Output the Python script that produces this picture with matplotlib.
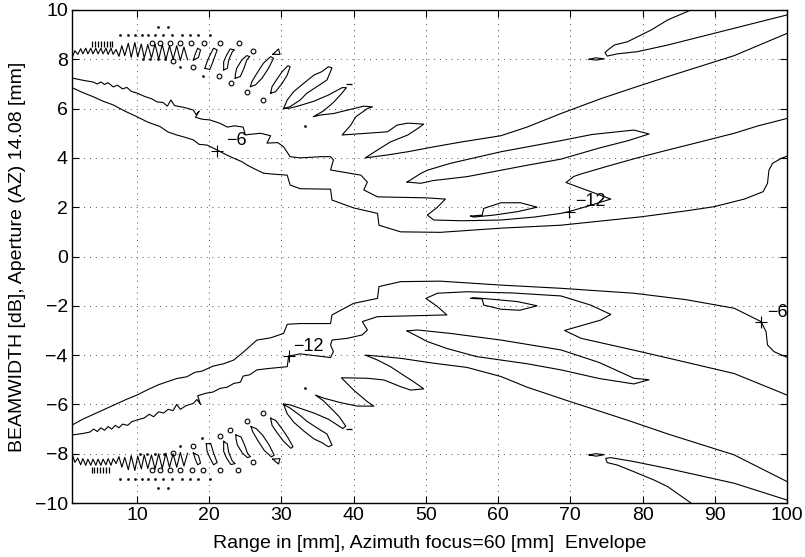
import matplotlib
matplotlib.use("Agg")
import matplotlib.pyplot as plt

plt.rcParams['font.family'] = ['Liberation Sans', 'DejaVu Sans']

# ---------------- axis description ----------------
x_ticks = [10, 20, 30, 40, 50, 60, 70, 80, 90, 100]
y_ticks = [-10, -8, -6, -4, -2, 0, 2, 4, 6, 8, 10]
x_label = "Range in [mm], Azimuth focus=60 [mm]  Envelope"
y_label = "BEAMWIDTH [dB], Aperture (AZ) 14.08 [mm]"

# ---------------- upper half contour lines ----------------
u1_x = [1, 2.5, 3.95, 5.3, 6.7, 8.3, 10, 11.5, 13.2, 14.3, 15.5, 16.5, 17.8, 18.6, 19.7, 21.1, 22.2, 23.3, 24.5, 25.3,
        26.1, 27.5, 28.5, 30.8, 31.2, 32.6, 36.8, 37.0, 40.0, 43.3, 43.5, 46.5, 52, 60.4, 68.7, 79.8, 86, 89.9, 94.1, 96.7,
        97.3, 97.5, 98.0, 99.2, 100]
u1_y = [6.85, 6.65, 6.48, 6.3, 6.15, 5.9, 5.67, 5.45, 5.27, 5.05, 4.93, 4.85, 4.73, 4.55, 4.52, 4.32, 4.15, 4.0, 3.85, 3.7,
        3.58, 3.38, 3.35, 3.3, 2.9, 2.75, 2.73, 2.29, 1.97, 1.75, 1.27, 1.0, 0.98, 1.15, 1.27, 1.61, 1.85, 2.02, 2.33, 2.63,
        2.97, 3.5, 3.78, 3.98, 4.07]

u2_x = [1, 2.5, 3.9, 4.5, 5.0, 5.5, 6.0, 6.7, 7.3, 8.0, 8.6, 9.2, 10.0, 11.0, 12.0, 12.8, 13.6, 14.2, 14.7, 15.2,
        16.5, 17.8, 18.2, 18.6, 18.1, 19.0, 20.1, 21.5, 22.5, 23.5, 24.7, 25.0, 25.5, 27.1, 28.5, 28.0, 29.5, 30.3, 31.2, 32.6,
        35.4, 36.8, 37.2, 36.8, 39.0, 41.0, 41.9, 41.4, 43.3, 46.5, 50.0, 52.7, 51.6, 50.2, 51.1, 55.0, 60.4, 65.0, 68.7, 69.8,
        72.5, 75.6, 69.4, 70.5, 71.5, 75.0, 79.0, 83.5, 88.0, 92.7, 96.0, 100]
u2_y = [7.24, 7.15, 7.08, 7.0, 7.08, 6.98, 7.05, 6.88, 6.95, 6.8, 6.86, 6.7, 6.63, 6.5, 6.4, 6.27, 6.25, 6.1, 6.35, 6.12,
        6.05, 5.94, 5.75, 5.9, 5.65, 5.57, 5.54, 5.4, 5.25, 5.3, 5.25, 4.93, 4.95, 5.0, 4.9, 4.6, 4.62, 4.45, 4.05, 4.0,
        4.05, 4.05, 3.92, 3.51, 3.4, 3.3, 3.02, 2.7, 2.42, 2.4, 2.38, 2.33, 2.0, 1.68, 1.48, 1.45, 1.48, 1.6, 1.75, 1.82,
        2.05, 2.33, 3.0, 3.25, 3.35, 3.65, 3.98, 4.32, 4.65, 5.0, 5.3, 5.6]

u3_x = [100, 92.7, 83.5, 78.8, 74.2, 68.7, 64.0, 60.4, 55.0, 51.1, 47.5, 44.7, 41.6, 43.3, 45.1, 47.5, 48.9, 49.7, 47.5, 46.0,
        44.7, 41.9, 38.4, 39.6, 40.3, 41.9, 42.6, 41.4, 40.0, 37.2, 35.4, 34.4, 35.8, 37.2, 38.3, 39.0, 38.4, 36.5, 34.5, 32.5,
        31.2, 30.3]
u3_y = [9.05, 8.15, 7.3, 6.85, 6.4, 5.8, 5.25, 4.9, 4.65, 4.45, 4.25, 4.12, 4.0, 4.32, 4.65, 4.93, 5.2, 5.37, 5.41, 5.33,
        5.06, 5.0, 4.93, 5.33, 5.67, 6.0, 6.07, 6.1, 6.0, 5.8, 5.74, 5.67, 5.9, 6.25, 6.6, 6.85, 6.85, 6.55, 6.3, 6.12,
        6.02, 6.0]

u_tongue_x = [86.7, 83.5, 81.2, 77.9, 76.1, 75.2, 74.8, 75.1, 76.5, 79.3, 83.5, 88.1, 92.7, 100]
u_tongue_y = [10.0, 9.6, 9.19, 8.71, 8.58, 8.38, 8.27, 8.13, 8.22, 8.31, 8.58, 8.92, 9.26, 9.8]

u_blob_x = [72.6, 73.5, 74.7, 73.6, 72.6]
u_blob_y = [8.0, 8.06, 8.02, 7.97, 8.0]

u_island_x = [56.2, 57.8, 58.0, 60.4, 63.1, 65.4, 62.7, 59.4, 56.6, 56.2]
u_island_y = [1.64, 1.68, 1.95, 2.18, 2.18, 2.0, 1.82, 1.68, 1.6, 1.64]

u_lobe_x = [47.4, 49.3, 50.2, 53.4, 60.4, 68.7, 73.0, 78.8, 80.9, 78.0, 74.0, 68.7, 64.0, 60.4, 55.7, 51.0, 49.3, 47.4]
u_lobe_y = [3.02, 3.37, 3.5, 3.78, 4.25, 4.7, 4.95, 5.13, 4.97, 4.7, 4.4, 3.95, 3.7, 3.5, 3.24, 3.08, 2.97, 3.02]

u_f4_x = [30.3, 31.2, 32.6, 33.5, 34.9, 36.3, 37.0, 36.5, 35.6, 34.5, 33.1, 31.7, 30.8, 30.3]
u_f4_y = [6.0, 6.08, 6.35, 6.62, 6.89, 7.16, 7.65, 7.7, 7.5, 7.36, 7.03, 6.69, 6.35, 6.0]
u_f5_x = [28.5, 29.2, 30.1, 30.8, 31.2, 30.9, 30.1, 29.3, 28.7, 28.5]
u_f5_y = [6.62, 6.69, 7.03, 7.36, 7.7, 7.74, 7.5, 7.16, 6.89, 6.62]
u_f6_x = [25.7, 26.4, 27.3, 28.2, 28.9, 28.5, 27.5, 26.6, 25.9, 25.7]
u_f6_y = [6.89, 6.96, 7.23, 7.63, 8.04, 8.11, 7.84, 7.43, 7.09, 6.89]
u_f7_x = [23.6, 24.3, 24.8, 25.2, 25.6, 25.2, 24.5, 23.8, 23.6, 23.6]
u_f7_y = [7.23, 7.3, 7.63, 7.97, 8.11, 8.15, 7.97, 7.63, 7.36, 7.23]
u_f8_x = [22.0, 22.5, 22.7, 23.2, 23.5, 22.9, 22.4, 22.0, 22.0]
u_f8_y = [7.57, 7.63, 7.97, 8.31, 8.38, 8.42, 8.17, 7.9, 7.57]
u_f9_x = [19.4, 20.1, 20.6, 21.1, 20.6, 20.1, 19.7, 19.4]
u_f9_y = [7.63, 7.59, 7.97, 8.38, 8.45, 8.17, 7.9, 7.63]
u_f10_x = [17.8, 18.5, 18.8, 18.4, 18.1, 17.8]
u_f10_y = [7.97, 8.07, 8.38, 8.45, 8.24, 7.97]
u_tri_x = [28.8, 29.6, 29.8, 28.8]
u_tri_y = [8.2, 8.42, 8.2, 8.2]

u_zig_x = [1.0, 1.4, 1.8, 2.2, 2.5, 2.9, 3.2, 3.6, 3.9, 4.3, 4.6, 5.0, 5.3, 5.7, 6.0, 6.4, 6.7, 7.1, 7.5, 7.9,
           8.3, 8.8, 9.2, 9.7, 10.1, 10.6, 11.0, 11.5, 12.0, 12.5, 13.0, 13.5, 14.0, 14.5, 15.0, 15.5, 16.0, 16.5, 17.0]
u_zig_y = [8.05, 8.35, 8.2, 8.43, 8.22, 8.45, 8.22, 8.45, 8.22, 8.45, 8.22, 8.45, 8.22, 8.45, 8.2, 8.45, 8.2, 8.4, 8.12, 8.55,
           8.15, 8.65, 8.08, 8.68, 8.1, 8.62, 8.05, 8.6, 8.05, 8.62, 8.0, 8.6, 7.98, 8.55, 8.0, 8.55, 7.95, 8.5, 7.98]

u_oval_x = [12.1, 13.2, 14.6, 16.0, 17.5, 19.3, 21.5, 24.1, 26.0, 15.0, 17.8, 21.3, 23.0, 25.2, 27.5]
u_oval_y = [8.65, 8.65, 8.65, 8.65, 8.65, 8.65, 8.65, 8.65, 8.34, 7.95, 7.70, 7.34, 7.03, 6.69, 6.35]
u_dot_x = [7.7, 8.8, 9.7, 10.7, 11.5, 12.5, 13.6, 14.9, 16.2, 17.3, 18.5, 20.1, 12.9, 14.3, 10.8, 11.8, 12.9, 13.9, 16.0, 19.1, 33.3]
u_dot_y = [9.0, 9.0, 9.0, 9.0, 9.0, 9.0, 9.0, 9.0, 9.0, 9.0, 9.0, 9.0, 9.33, 9.33, 8.03, 8.03, 8.03, 8.0, 7.67, 7.33, 5.3]
u_tick_x = [3.8, 4.2, 4.6, 5.0, 5.4, 5.8, 6.2, 6.6]
u_tick_y = [8.62, 8.62, 8.62, 8.62, 8.62, 8.62, 8.62, 8.62]
u_dash_x = [39.3]
u_dash_y = [6.98]

# ---------------- lower half contour lines ----------------
l1_x = [1, 2.5, 4.0, 5.5, 7.0, 8.5, 10, 11.5, 13, 14.5, 15.5, 16.9, 18, 19, 20.5, 22, 23.4, 24.8, 26.6, 28.5,
        30.3, 30.8, 32.6, 36.8, 37.0, 40.0, 43.3, 43.5, 46.5, 52, 60.4, 68.7, 78.8, 86, 92.7, 96.4, 97.1, 97.3, 98.2, 100]
l1_y = [-6.84, -6.6, -6.4, -6.2, -6.0, -5.8, -5.62, -5.4, -5.2, -5.05, -4.95, -4.88, -4.7, -4.65, -4.45, -4.35, -4.2, -3.86, -3.39, -3.3,
        -3.12, -2.75, -2.72, -2.72, -2.37, -1.9, -1.7, -1.22, -1.02, -1.0, -1.16, -1.29, -1.49, -1.75, -2.1, -2.64, -3.05, -3.59, -3.86, -4.09]

l2_x = [1, 2.5, 3.5, 4.0, 4.5, 5.0, 5.5, 6.0, 6.5, 7.0, 7.5, 8.0, 8.7, 9.3, 10.0, 11.0, 11.7, 12.3, 13.0, 13.7,
        14.3, 15.0, 15.5, 16.0, 16.8, 17.8, 18.3, 18.8, 18.4, 19.5, 20.5, 21.5, 22.5, 23.4, 24.3, 24.7, 25.6, 26.6, 28.0, 30.8,
        31.0, 32.6, 36.8, 37.2, 36.8, 37.0, 39.1, 41.2, 41.9, 41.2, 43.3, 52.9, 51.6, 50.0, 51.6, 55.7, 62.0, 68.7, 72.8, 75.6,
        74.2, 69.2, 71.5, 78.8, 85.0, 92.7, 100]
l2_y = [-7.24, -7.18, -7.12, -7.0, -7.1, -6.95, -7.05, -6.9, -7.0, -6.85, -6.95, -6.8, -6.85, -6.7, -6.63, -6.55, -6.4, -6.5, -6.3, -6.35,
        -6.2, -6.25, -6.0, -6.2, -6.05, -5.96, -5.8, -6.0, -5.65, -5.55, -5.5, -5.35, -5.3, -5.15, -5.1, -4.85, -4.8, -4.6, -4.55, -4.47,
        -4.04, -3.95, -4.1, -3.86, -3.59, -3.39, -3.32, -3.18, -2.98, -2.64, -2.44, -2.37, -2.03, -1.7, -1.49, -1.43, -1.48, -1.6, -1.97, -2.35,
        -2.58, -3.0, -3.32, -3.8, -4.22, -4.75, -5.62]

l3_x = [100, 92.7, 83.5, 78.0, 69.6, 64.0, 60.4, 55.7, 51.1, 46.5, 43.3, 41.6, 43.3, 45.1, 46.5, 48.3, 49.7, 47.9, 46.5, 44.2,
        41.9, 38.3, 40.0, 41.9, 42.8, 40.5, 38.2, 35.9, 34.7, 35.8, 37.0, 38.0, 38.9, 38.5, 36.5, 34.5, 32.5, 31.2, 30.3]
l3_y = [-9.13, -8.05, -7.2, -6.65, -5.85, -5.3, -4.87, -4.5, -4.33, -4.13, -4.04, -4.0, -4.2, -4.47, -4.74, -5.08, -5.37, -5.42, -5.28, -5.01,
        -4.94, -4.92, -5.42, -5.89, -6.07, -6.07, -5.93, -5.75, -5.62, -5.85, -6.2, -6.5, -6.88, -6.98, -6.6, -6.35, -6.15, -6.02, -5.98]

l_tongue_x = [100, 92.7, 83.5, 78.8, 75.6, 74.9, 75.1, 76.5, 78.8, 81.6, 83.5, 86.7]
l_tongue_y = [-9.88, -9.2, -8.6, -8.32, -8.16, -8.19, -8.36, -8.46, -8.73, -9.07, -9.34, -10.0]

l_blob_x = [72.6, 73.5, 74.7, 73.6, 72.6]
l_blob_y = [-8.05, -8.0, -8.04, -8.1, -8.05]

l_island_x = [56.2, 57.8, 58.0, 60.4, 63.0, 65.4, 62.7, 59.4, 56.6, 56.2]
l_island_y = [-1.7, -1.72, -1.97, -2.14, -2.18, -2.0, -1.83, -1.74, -1.67, -1.7]

l_lobe_x = [47.4, 48.8, 53.4, 60.4, 68.7, 74.0, 78.8, 80.9, 78.8, 74.0, 68.7, 64.0, 57.0, 52.9, 50.2, 47.4]
l_lobe_y = [-3.02, -2.98, -3.12, -3.39, -3.79, -4.3, -4.94, -5.0, -5.17, -4.95, -4.6, -4.35, -4.06, -3.73, -3.45, -3.02]

l_f4_x = [30.3, 31.2, 32.6, 33.5, 34.9, 36.3, 37.0, 36.5, 35.6, 34.5, 33.1, 31.7, 30.8, 30.3]
l_f4_y = [-6.0, -6.15, -6.45, -6.68, -6.95, -7.2, -7.65, -7.72, -7.55, -7.4, -7.08, -6.72, -6.38, -6.0]
l_f5_x = [28.5, 29.2, 30.1, 30.9, 31.6, 31.3, 30.3, 29.4, 28.7, 28.5]
l_f5_y = [-6.56, -6.65, -7.0, -7.35, -7.72, -7.78, -7.5, -7.15, -6.85, -6.56]
l_f6_x = [25.8, 26.5, 27.4, 28.3, 29.0, 28.6, 27.6, 26.7, 26.0, 25.8]
l_f6_y = [-6.9, -6.98, -7.25, -7.65, -8.06, -8.13, -7.86, -7.45, -7.1, -6.9]
l_f7_x = [23.7, 24.4, 24.9, 25.3, 25.7, 25.3, 24.6, 23.9, 23.7, 23.7]
l_f7_y = [-7.24, -7.32, -7.65, -7.98, -8.12, -8.16, -7.98, -7.65, -7.38, -7.24]
l_f8_x = [22.0, 22.5, 22.7, 23.2, 23.6, 23.0, 22.4, 22.0, 22.0]
l_f8_y = [-7.5, -7.6, -7.95, -8.3, -8.4, -8.44, -8.18, -7.9, -7.5]
l_f9_x = [19.6, 20.2, 20.6, 21.1, 20.6, 20.1, 19.7, 19.6]
l_f9_y = [-7.6, -7.58, -7.97, -8.36, -8.45, -8.17, -7.9, -7.6]
l_f10_x = [17.8, 18.5, 18.8, 18.4, 18.1, 17.8]
l_f10_y = [-7.97, -8.07, -8.38, -8.45, -8.24, -7.97]
l_tri_x = [28.8, 29.6, 29.8, 28.8]
l_tri_y = [-8.22, -8.42, -8.2, -8.22]

l_zig_x = [1.0, 1.4, 1.8, 2.2, 2.5, 2.9, 3.2, 3.6, 3.9, 4.3, 4.6, 5.0, 5.3, 5.7, 6.0, 6.4, 6.7, 7.1, 7.5, 7.9,
           8.3, 8.8, 9.2, 9.7, 10.1, 10.6, 11.0, 11.5, 12.0, 12.5, 13.0, 13.5, 14.0, 14.5, 15.0, 15.5, 16.0, 16.5, 17.0]
l_zig_y = [-8.0, -8.35, -8.18, -8.45, -8.2, -8.47, -8.22, -8.47, -8.22, -8.47, -8.22, -8.47, -8.22, -8.45, -8.2, -8.47, -8.2, -8.4, -8.12, -8.55,
           -8.15, -8.65, -8.08, -8.68, -8.1, -8.62, -8.05, -8.6, -8.05, -8.62, -8.0, -8.6, -7.98, -8.55, -8.0, -8.55, -7.95, -8.5, -7.98]

l_oval_x = [12.1, 13.2, 14.6, 16.0, 17.6, 19.2, 21.5, 24.0, 26.0, 15.0, 17.8, 21.5, 22.9, 25.2, 27.5]
l_oval_y = [-8.66, -8.66, -8.66, -8.66, -8.66, -8.66, -8.66, -8.66, -8.34, -7.97, -7.69, -7.3, -7.03, -6.69, -6.35]
l_dot_x = [7.7, 8.8, 9.7, 10.7, 11.5, 12.5, 13.6, 14.9, 16.2, 17.3, 18.5, 20.1, 12.9, 14.3, 10.4, 11.4, 12.5, 13.7, 16.0, 19.0, 33.3]
l_dot_y = [-9.04, -9.04, -9.04, -9.04, -9.04, -9.04, -9.04, -9.04, -9.04, -9.04, -9.04, -9.04, -9.39, -9.39, -8.03, -8.03, -8.03, -8.03, -7.69, -7.37, -5.33]
l_tick_x = [3.7, 4.1, 4.5, 4.9, 5.3, 5.7, 6.1]
l_tick_y = [-8.65, -8.65, -8.65, -8.65, -8.65, -8.65, -8.65]
l_dash_x = [39.3]
l_dash_y = [-7.0]

# ---------------- contour labels ----------------
label_text = ["\u22126", "\u221212", "\u221212", "\u22126"]
label_mark_x = [21.1, 69.8, 31.0, 96.4]
label_mark_y = [4.28, 1.82, -4.04, -2.64]
label_text_x = [22.4, 70.7, 31.6, 97.2]
label_text_y = [4.7, 2.23, -3.66, -2.28]

# ---------------- drawing ----------------
fig = plt.figure(figsize=(8.05, 5.57), dpi=100)
ax = fig.add_axes([72 / 805, 1 - 503 / 557, 715 / 805, 493 / 557])

lines = [
    (u1_x, u1_y), (u2_x, u2_y), (u3_x, u3_y), (u_tongue_x, u_tongue_y), (u_blob_x, u_blob_y),
    (u_island_x, u_island_y), (u_lobe_x, u_lobe_y), (u_f4_x, u_f4_y), (u_f5_x, u_f5_y), (u_f6_x, u_f6_y),
    (u_f7_x, u_f7_y), (u_f8_x, u_f8_y), (u_f9_x, u_f9_y), (u_f10_x, u_f10_y), (u_tri_x, u_tri_y), (u_zig_x, u_zig_y),
    (l1_x, l1_y), (l2_x, l2_y), (l3_x, l3_y), (l_tongue_x, l_tongue_y), (l_blob_x, l_blob_y),
    (l_island_x, l_island_y), (l_lobe_x, l_lobe_y), (l_f4_x, l_f4_y), (l_f5_x, l_f5_y), (l_f6_x, l_f6_y),
    (l_f7_x, l_f7_y), (l_f8_x, l_f8_y), (l_f9_x, l_f9_y), (l_f10_x, l_f10_y), (l_tri_x, l_tri_y), (l_zig_x, l_zig_y),
]
for xs, ys in lines:
    ax.plot(xs, ys, color='k', lw=0.8, solid_joinstyle='round')

for xs, ys in [(u_oval_x, u_oval_y), (l_oval_x, l_oval_y)]:
    ax.plot(xs, ys, ls='none', marker='o', ms=3.4, mfc='none', mec='k', mew=0.8)
for xs, ys in [(u_dot_x, u_dot_y), (l_dot_x, l_dot_y)]:
    ax.plot(xs, ys, ls='none', marker='o', ms=1.6, mfc='k', mec='k', mew=0.3)
for xs, ys in [(u_tick_x, u_tick_y), (l_tick_x, l_tick_y)]:
    ax.plot(xs, ys, ls='none', marker='|', ms=5, mec='k', mew=0.9)
for xs, ys in [(u_dash_x, u_dash_y), (l_dash_x, l_dash_y)]:
    ax.plot(xs, ys, ls='none', marker='_', ms=4, mec='k', mew=0.9)

ax.plot(label_mark_x, label_mark_y, ls='none', marker='+', ms=8, mec='k', mew=0.8)
for t, tx, ty in zip(label_text, label_text_x, label_text_y):
    ax.text(tx, ty, t, ha='left', va='center', fontsize=13, clip_on=False)

ax.set_xlim(1, 100)
ax.set_ylim(-10, 10)
ax.set_xticks(x_ticks)
ax.set_yticks(y_ticks)
ax.set_xticklabels([str(v) for v in x_ticks])
ax.set_yticklabels([str(v).replace('-', '\u2212') for v in y_ticks])
ax.tick_params(direction='in', top=True, right=True, length=5, width=0.8, labelsize=14, pad=3)
ax.grid(True, color='0.3', linestyle=(0, (1, 5)), linewidth=0.7)
for s in ax.spines.values():
    s.set_linewidth(1.0)

ax.set_xlabel(x_label, fontsize=14)
ax.xaxis.label.set_va('center')
ax.xaxis.set_label_coords(0.5, (503 - 544) / 493)
ax.set_ylabel(y_label, fontsize=14)
ax.yaxis.label.set_va('center')
ax.yaxis.set_label_coords((18 - 72) / 715, 0.5)

fig.savefig("out.png", dpi=100)
